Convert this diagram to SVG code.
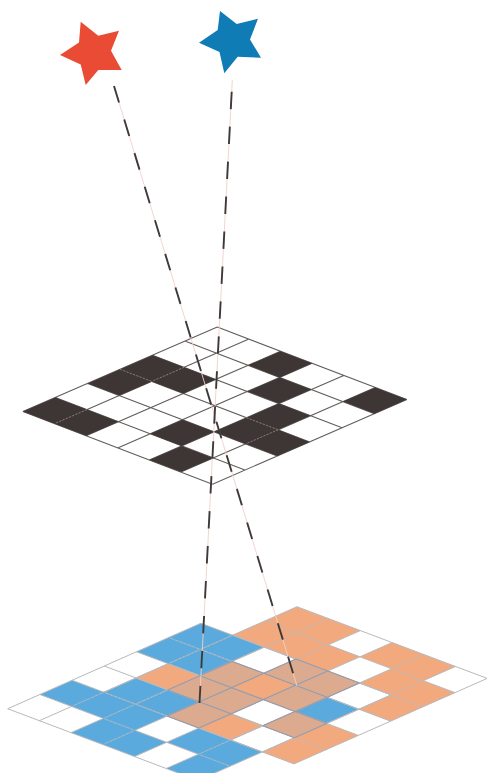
<svg xmlns="http://www.w3.org/2000/svg" width="487" height="773" viewBox="0 0 487 773">
  <style>
    .nss { vector-effect: non-scaling-stroke; fill: none; }
    .dark { fill: #3e3634; }
    .or { fill: #f2a97e; }
    .bl { fill: #5aaade; }
    .tan { fill: #dcab8f; }
    .wh { fill: #ffffff; }
    .pink { stroke: #f3cfc8; stroke-width: 0.9; fill: none; }
    .dash { stroke: #3f3a3a; stroke-width: 1.9; fill: none; }
  </style>
  <rect width="487" height="773" fill="#ffffff"/>

  <g id="stars">
    <polygon id="star-red" fill="#ea4b35" points="80.7,21.7 98.3,35.7 119,30.7 111,50.7 121.7,70 98.3,70 85.7,85 80.7,64.5 60,55 79,42.5"/>
    <polygon id="star-blue" fill="#0f7cb5" points="220,11 236.7,24 258,18.7 250,39.5 261,57.7 237.7,56.7 224.3,73.3 219.5,52 199,42.7 217.7,30"/>
  </g>

  <g id="mask-grid" transform="matrix(31.6 12.1 -32.4 14.1 217.3 327)">
    <rect class="wh" x="0" y="0" width="6" height="6"/>
    <path class="nss" stroke="#625e5c" stroke-width="1.1" d="M0 0H6M0 1H6M0 2H6M0 3H6M0 4H6M0 5H6M0 6H6M0 0V6M1 0V6M2 0V6M3 0V6M4 0V6M5 0V6M6 0V6"/>
    <g class="dark">
      <rect x="2" y="0" width="1" height="1"/>
      <rect x="5" y="0" width="1" height="1"/>
      <rect x="3" y="1" width="1" height="1"/>
      <rect x="0" y="2" width="1" height="1"/>
      <rect x="1" y="2" width="1" height="1"/>
      <rect x="4" y="2" width="1" height="1"/>
      <rect x="0" y="3" width="1" height="1"/>
      <rect x="4" y="3" width="1" height="1"/>
      <rect x="5" y="3" width="1" height="1"/>
      <rect x="3" y="4" width="1" height="1"/>
      <rect x="0" y="5" width="1" height="1"/>
      <rect x="1" y="5" width="1" height="1"/>
      <rect x="4" y="5" width="1" height="1"/>
    </g>
    <path class="nss" stroke="#8d827c" stroke-width="0.9" stroke-dasharray="2 1.5" d="M1 2V3M0 3H1M1 5V6M4 3H5M5 3V4"/>
  </g>

  <g id="screen-grid" transform="matrix(31.7 11.95 -32.2 14.25 297 606.7)">
    <g class="or">
      <rect x="0" y="0" width="1" height="1"/>
      <rect x="1" y="0" width="1" height="1"/>
      <rect x="3" y="0" width="1" height="1"/>
      <rect x="4" y="0" width="1" height="1"/>
      <rect x="0" y="1" width="1" height="1"/>
      <rect x="1" y="1" width="1" height="1"/>
      <rect x="2" y="1" width="1" height="1"/>
      <rect x="4" y="1" width="1" height="1"/>
      <rect x="5" y="1" width="1" height="1"/>
      <rect x="5" y="2" width="1" height="1"/>
      <rect x="2" y="3" width="1" height="1"/>
      <rect x="0" y="4" width="1" height="1"/>
      <rect x="5" y="4" width="1" height="1"/>
      <rect x="3" y="5" width="1" height="1"/>
      <rect x="5" y="5" width="1" height="1"/>
    </g>
    <g class="bl">
      <rect x="-1" y="2" width="1" height="1"/>
      <rect x="0" y="2" width="1" height="1"/>
      <rect x="-1" y="3" width="1" height="1"/>
      <rect x="0" y="3" width="1" height="1"/>
      <rect x="4" y="3" width="1" height="1"/>
      <rect x="0" y="5" width="1" height="1"/>
      <rect x="1" y="5" width="1" height="1"/>
      <rect x="-1" y="6" width="1" height="1"/>
      <rect x="0" y="6" width="1" height="1"/>
      <rect x="1" y="6" width="1" height="1"/>
      <rect x="3" y="6" width="1" height="1"/>
      <rect x="4" y="6" width="1" height="1"/>
      <rect x="1" y="7" width="1" height="1"/>
      <rect x="2" y="7" width="1" height="1"/>
      <rect x="4" y="7" width="1" height="1"/>
    </g>
    <g class="tan">
      <rect x="2" y="2" width="1" height="1"/>
      <rect x="3" y="2" width="1" height="1"/>
      <rect x="1" y="3" width="1" height="1"/>
      <rect x="3" y="3" width="1" height="1"/>
      <rect x="1" y="4" width="1" height="1"/>
      <rect x="2" y="4" width="1" height="1"/>
      <rect x="4" y="4" width="1" height="1"/>
      <rect x="2" y="5" width="1" height="1"/>
    </g>
    <path class="nss" stroke="#b9b9bc" stroke-width="1" d="M0 0H6M0 1H6M0 2H6M0 3H6M0 4H6M0 5H6M0 6H6M0 0V6M1 0V6M2 0V6M3 0V6M4 0V6M5 0V6M6 0V6M-1 2H5M-1 3H5M-1 4H5M-1 5H5M-1 6H5M-1 7H5M-1 8H5M-1 2V8M0 2V8M1 2V8M2 2V8M3 2V8M4 2V8M5 2V8"/>
    <path class="nss" stroke="#5aaade" stroke-width="1" stroke-opacity="0.55" stroke-dasharray="3 1.5" d="M0 2V4M-1 3H1M1 5V7M0 6H2M0 6V7M1 7H2M2 7V8M4 6V7M4 7H5"/>
    <path class="nss" stroke="#f2a97e" stroke-width="1" stroke-opacity="0.55" stroke-dasharray="3 1.5" d="M1 0V2M0 1H2M2 1V2M4 0V1M4 1H5M5 1V2M5 2H6M5 5H6"/>
    <path class="nss" stroke="#9c99a4" stroke-width="1.1" d="M2 2H4M2 3H4M1 3H2M1 4H3M3 4H4M4 4H5M4 5H5M1 5H3M2 6H3M2 2V3M3 2V4M4 2V4M1 3V5M2 3V6M3 4V6M4 4V5M5 4V5"/>
  </g>

  <g id="connectors">
    <line class="pink" x1="114" y1="86" x2="297" y2="686"/>
    <line class="dash" x1="114" y1="86" x2="297" y2="686" stroke-dasharray="17.2 17.9"/>
    <line class="pink" x1="232.3" y1="80" x2="199.5" y2="703"/>
    <line class="dash" x1="231.7" y1="91.7" x2="199.5" y2="703" stroke-dasharray="17.4 17.6"/>
  </g>
</svg>
